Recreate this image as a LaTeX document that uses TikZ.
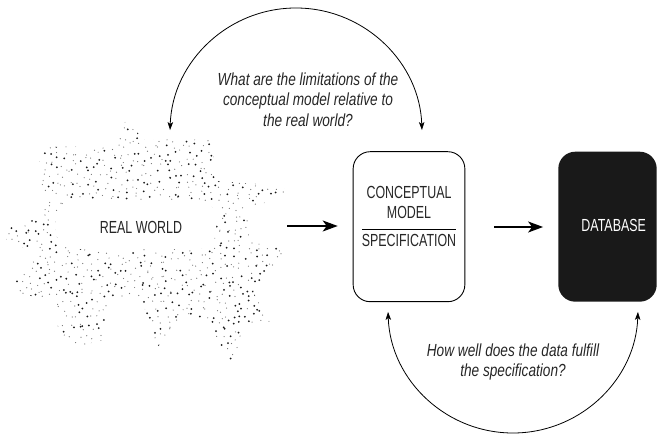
\documentclass[tikz,border=0pt]{standalone}
\usepackage{fontspec}
\setmainfont{Liberation Sans}[FakeStretch=0.71]
\newfontfamily\qfont{Liberation Sans}[FakeStretch=0.78]
\usetikzlibrary{arrows.meta}
\tikzset{
  lbl/.style={font=\fontsize{17.5}{20}\selectfont, text=black!85, inner sep=0pt},
  qtxt/.style={font=\qfont\itshape\fontsize{17.5}{20.5}\selectfont, text=black!85, align=center, inner sep=0pt},
  arcarrow/.style={line width=0.8pt, {Stealth[length=8pt,width=5.5pt,inset=2pt]}-{Stealth[length=8pt,width=5.5pt,inset=2pt]}},
  bigarrow/.style={line width=1.6pt, -{Stealth[length=15pt,width=11pt,inset=4pt]}},
  cmbox/.style={draw, line width=0.9pt, rounded corners=17pt, minimum width=111.7pt, minimum height=150pt, inner sep=0pt},
  dbbox/.style={fill=black!90, rounded corners=17pt, minimum width=98.4pt, minimum height=150pt, inner sep=0pt},
}
\begin{document}
\begin{tikzpicture}[x=1pt,y=1pt]
\useasboundingbox (0,0) rectangle (661,434);
% star-burst of dots
\begin{scope}
  \clip (128,320) -- (141,295) -- (213,294) -- (215,253) -- (285,248) -- (284,237)
    -- (248,226) -- (249,194) -- (285,185) -- (277,172) -- (253,142) -- (274,104)
    -- (247,112) -- (232,67) -- (206,116) -- (178,114) -- (157,86) -- (142,134)
    -- (110,138) -- (104,94) -- (78,88) -- (60,96) -- (53,134) -- (10,142)
    -- (32,182) -- (6,194) -- (6,207) -- (45,217) -- (38,287) -- (116,288) -- cycle;
  \pgfmathsetseed{11}
  \foreach \i in {0,...,42}{
    \foreach \j in {0,...,39}{
      \pgfmathsetmacro\px{\i*6.8+rnd*6.8}
      \pgfmathsetmacro\py{60+\j*6.8+rnd*6.8}
      \pgfmathsetmacro\big{rnd<0.35 ? 1 : 0}
      \ifdim\big pt>0.5pt
        \fill[black!90] (\px,\py) circle[radius=1.0pt];
      \else
        \fill[black!55] (\px,\py) circle[radius=0.6pt];
      \fi
    }
  }
\end{scope}
\fill[white, rounded corners=18pt] (56,185) rectangle (216,234);
\node[lbl] (real) at (141,207) {REAL WORLD};
\coordinate (starR) at (287,208);

% conceptual model box
\node[cmbox] (cm) at (409,207.3) {};
\node[lbl] (cm1) at (409,242) {CONCEPTUAL};
\node[lbl] (cm2) at (409,221.3) {MODEL};
\node[lbl] (cm3) at (409,194) {SPECIFICATION};
\draw[line width=0.8pt] (362,204.7) -- (455.7,204.7);

% database box
\node[dbbox] (db) at (607.5,207.3) {};
\node[lbl, text=white] (dbt) at (613.7,209) {DATABASE};

% straight arrows
\draw[bigarrow, shorten >=15pt] (starR) -- (cm.west |- starR);
\draw[bigarrow, shorten <=29pt, shorten >=15pt] (cm.east |- 0,207) -- (db.west |- 0,207);

% top arc
\coordinate (tl) at (170.06,303.96);
\coordinate (tr) at (421.94,303.96);
\draw[arcarrow] (tl) arc[start angle=178.2, end angle=1.8, radius=126pt];
\node[qtxt] (q1) at (308,334.7) {What are the limitations of the\\conceptual model relative to\\the real world?};

% bottom arc
\coordinate (bl) at (388.06,122.07);
\coordinate (br) at (637.94,122.07);
\draw[arcarrow] (bl) arc[start angle=181.8, end angle=358.2, radius=125pt];
\node[qtxt] (q2) at (513,72) {How well does the data fulfill\\the specification?};
\end{tikzpicture}
\end{document}
